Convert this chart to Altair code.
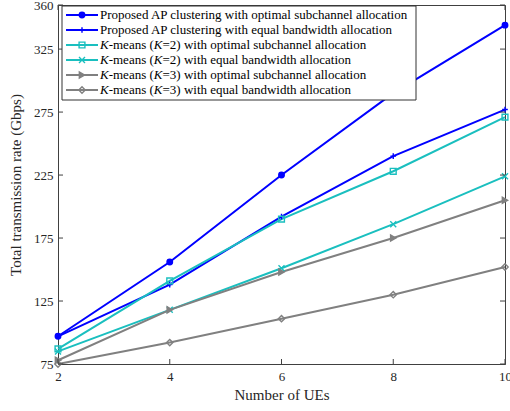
import altair as alt
import pandas as pd

ues = [2, 4, 6, 8, 10]
series_labels = [
    "Proposed AP clustering with optimal subchannel allocation",
    "Proposed AP clustering with equal bandwidth allocation",
    "K-means (K=2) with optimal subchannel allocation",
    "K-means (K=2) with equal bandwidth allocation",
    "K-means (K=3) with optimal subchannel allocation",
    "K-means (K=3) with equal bandwidth allocation",
]
s1 = [97, 156, 225, 290, 344]
s2 = [97, 138, 192, 240, 277]
s3 = [87, 141, 190, 228, 271]
s4 = [85, 118, 151, 186, 224]
s5 = [78, 118, 148, 175, 205]
s6 = [75, 92, 111, 130, 152]
y_ticks = [75, 125, 175, 225, 275, 325, 360]
x_ticks = [2, 4, 6, 8, 10]

# legend text segments (italic K handled separately)
legend_segments = [
    [("Proposed AP clustering with optimal subchannel allocation", False)],
    [("Proposed AP clustering with equal bandwidth allocation", False)],
    [("K", True), ("-means (", False), ("K", True), ("=2) with optimal subchannel allocation", False)],
    [("K", True), ("-means (", False), ("K", True), ("=2) with equal bandwidth allocation", False)],
    [("K", True), ("-means (", False), ("K", True), ("=3) with optimal subchannel allocation", False)],
    [("K", True), ("-means (", False), ("K", True), ("=3) with equal bandwidth allocation", False)],
]

colors = ["#0000FF", "#0000FF", "#1ABFBF", "#1ABFBF", "#808080", "#808080"]
fills = ["#0000FF", "transparent", "transparent", "transparent", "#808080", "transparent"]
shapes = ["circle", "M-1,0H1M0,-1V1", "square", "M-1,-1L1,1M-1,1L1,-1", "triangle-right", "diamond"]
sizes = [30, 40, 36, 22, 70, 50]

all_series = [s1, s2, s3, s4, s5, s6]
rows = []
for lab, vals in zip(series_labels, all_series):
    for u, v in zip(ues, vals):
        rows.append({"ues": u, "rate": v, "series": lab})
df = pd.DataFrame(rows)

leg_df = pd.DataFrame({"series": series_labels, "i": list(range(6))})
seg_rows = []
for i, segs in enumerate(legend_segments):
    for j, (t, it) in enumerate(segs):
        seg_rows.append({"i": i, "seg": j, "t": t, "it": it})
seg_df = pd.DataFrame(seg_rows)

FONT = "Liberation Serif"
W, H = 447, 359

xs = alt.Scale(domain=[2, 10], nice=False, zero=False)
ys = alt.Scale(domain=[75, 360], nice=False, zero=False)

col = alt.Color("series:N", scale=alt.Scale(domain=series_labels, range=colors), legend=None)
stroke = alt.Stroke("series:N", scale=alt.Scale(domain=series_labels, range=colors), legend=None)
fill = alt.Fill("series:N", scale=alt.Scale(domain=series_labels, range=fills), legend=None)
shape = alt.Shape("series:N", scale=alt.Scale(domain=series_labels, range=shapes), legend=None)
size = alt.Size("series:N", scale=alt.Scale(domain=series_labels, range=sizes), legend=None)

X = alt.X("ues:Q", scale=xs, axis=alt.Axis(values=x_ticks, format="d", title="Number of UEs", ticks=False,
                                           labelFlush=False, labelPadding=6, titlePadding=4, grid=False))
Y = alt.Y("rate:Q", scale=ys, axis=alt.Axis(values=y_ticks, format="d", title="Total transmission rate (Gbps)",
                                            ticks=False, labelPadding=5, titlePadding=10, grid=False))

base = alt.Chart(df)
lines = base.mark_line(strokeWidth=2).encode(x=X, y=Y, color=col, detail="series:N", order="ues:Q")
points = base.mark_point(filled=False, strokeWidth=1.4, opacity=1).encode(
    x="ues:Q", y="rate:Q", stroke=stroke, fill=fill, shape=shape, size=size)

ytd = alt.Data(values=[{"v": v} for v in y_ticks])
xtd = alt.Data(values=[{"v": v} for v in x_ticks])
tk = dict(color="#404040", strokeWidth=1)
tick_l = alt.Chart(ytd).mark_rule(**tk).encode(y=alt.Y("v:Q", scale=ys), x=alt.value(0), x2=alt.value(5))
tick_r = alt.Chart(ytd).mark_rule(**tk).encode(y=alt.Y("v:Q", scale=ys), x=alt.value(W - 5), x2=alt.value(W))
tick_b = alt.Chart(xtd).mark_rule(**tk).encode(x=alt.X("v:Q", scale=xs), y=alt.value(H - 5), y2=alt.value(H))
tick_t = alt.Chart(xtd).mark_rule(**tk).encode(x=alt.X("v:Q", scale=xs), y=alt.value(0), y2=alt.value(5))

leg_box = alt.Chart(alt.Data(values=[{"a": 1}])).mark_rect(
    fill="white", stroke="#333333", strokeWidth=1).encode(
    x=alt.value(4), x2=alt.value(358), y=alt.value(1), y2=alt.value(95))

leg = alt.Chart(leg_df).transform_calculate(ly="10 + 15*datum.i")
leg_lines = leg.mark_rule(strokeWidth=2).encode(
    y=alt.Y("ly:Q", scale=None), x=alt.value(8), x2=alt.value(40), color=col)
leg_points = leg.mark_point(filled=False, strokeWidth=1.4, opacity=1).encode(
    y=alt.Y("ly:Q", scale=None), x=alt.value(24), stroke=stroke, fill=fill, shape=shape, size=size)

segt = alt.Chart(seg_df).transform_calculate(
    ly="10 + 15*datum.i",
    lx="42 + [0, 8.67, 53.8, 62.5][datum.seg]")
leg_text_n = segt.transform_filter("!datum.it").mark_text(
    font=FONT, fontSize=13, align="left", baseline="middle", color="black").encode(
    x=alt.X("lx:Q", scale=None), y=alt.Y("ly:Q", scale=None), text="t:N")
leg_text_i = segt.transform_filter("datum.it").mark_text(
    font=FONT, fontSize=13, fontStyle="italic", align="left", baseline="middle", color="black").encode(
    x=alt.X("lx:Q", scale=None), y=alt.Y("ly:Q", scale=None), text="t:N")

chart = alt.layer(
    lines, points, tick_l, tick_r, tick_b, tick_t,
    leg_box, leg_lines, leg_points, leg_text_n, leg_text_i
).properties(
    width=W, height=H,
    autosize=alt.AutoSizeParams(type="none"),
    padding={"left": 58, "top": 5, "right": 5, "bottom": 47},
    background="white",
).configure_view(
    stroke="#404040", strokeWidth=1
).configure_axis(
    labelFont=FONT, labelFontSize=13, labelColor="#262626",
    titleFont=FONT, titleFontSize=15, titleFontWeight="normal", titleColor="#262626",
    domainColor="#404040", domainWidth=1,
)

chart.save("out.html", embed_options={"renderer": "svg", "actions": False})
